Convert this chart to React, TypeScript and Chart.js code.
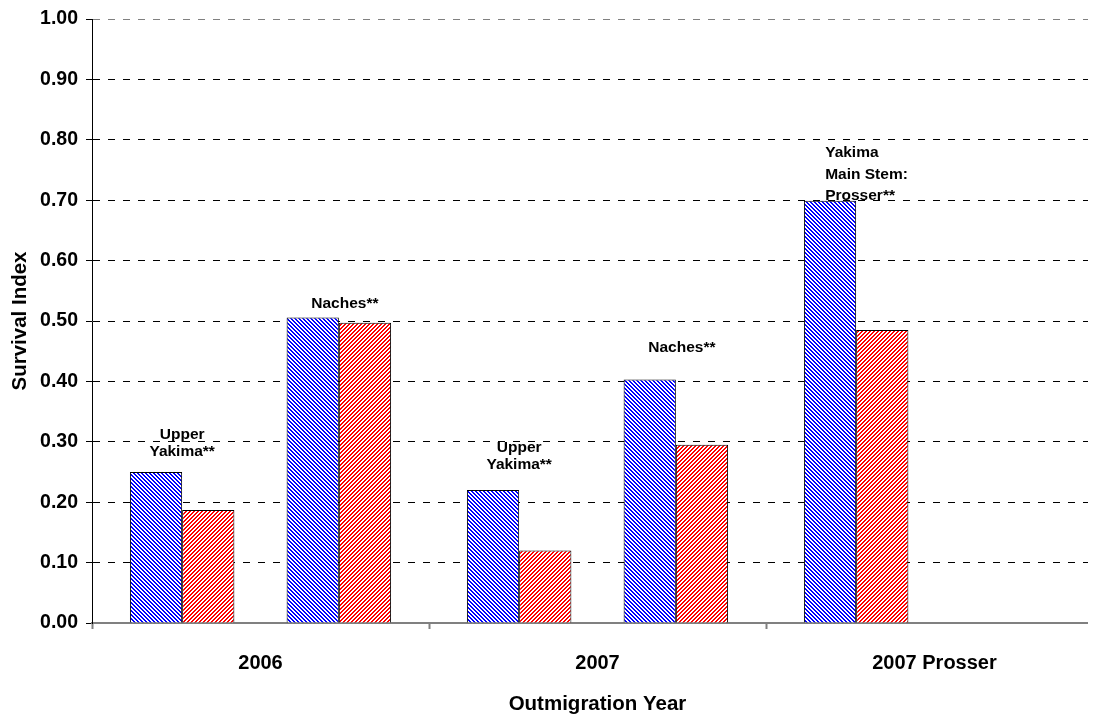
import React, { useEffect, useRef } from "react";
import { Chart, registerables } from "chart.js";

Chart.register(...registerables);

const categories = ["2006", "2007", "2007 Prosser"];
const upperBlue = [0.25, 0.22, 0.699];
const upperRed = [0.187, 0.12, 0.485];
const spacer = [null, null, null];
const nachesBlue = [0.506, 0.403, null];
const nachesRed = [0.497, 0.295, null];

const yTicks = [0, 0.1, 0.2, 0.3, 0.4, 0.5, 0.6, 0.7, 0.8, 0.9, 1.0];

const noteTexts = [
  ["Upper", "Yakima**"],
  ["Naches**"],
  ["Upper", "Yakima**"],
  ["Naches**"],
  ["Yakima", "Main Stem:", "Prosser**"],
];
const noteCategory = [0, 0, 1, 1, 2];
const noteSeries = [0, 3, 0, 3, 0];
const noteValue = [0.311, 0.528, 0.29, 0.455, 0.778];
const noteAlign = ["center", "center", "center", "center", "left"];

const FONT = "'Liberation Sans', Arial, sans-serif";

function makePattern(color: string, forward: boolean) {
  const c = document.createElement("canvas");
  c.width = 4;
  c.height = 4;
  const g = c.getContext("2d")!;
  g.fillStyle = "#ffffff";
  g.fillRect(0, 0, 4, 4);
  g.fillStyle = color;
  for (let y = 0; y < 4; y++) {
    for (let x = 0; x < 4; x++) {
      const k = forward ? (x + y) % 4 : (((x - y) % 4) + 4) % 4;
      if (k === 0 || k === 1) g.fillRect(x, y, 1, 1);
    }
  }
  const ctx = document.createElement("canvas").getContext("2d")!;
  return ctx.createPattern(c, "repeat")!;
}

const notesPlugin = {
  id: "notes",
  afterDatasetsDraw(chart: any) {
    const ctx = chart.ctx;
    const y = chart.scales.y;
    ctx.save();
    ctx.fillStyle = "#000";
    ctx.font = `bold 15.5px ${FONT}`;
    ctx.textBaseline = "middle";
    noteTexts.forEach((lines, i) => {
      const meta = chart.getDatasetMeta(noteSeries[i]);
      const bar = meta.data[noteCategory[i]];
      if (!bar) return;
      const pairCenter = bar.x + bar.width / 2;
      const y0 = y.getPixelForValue(noteValue[i]);
      lines.forEach((t, j) => {
        if (noteAlign[i] === "left") {
          ctx.textAlign = "left";
          ctx.fillText(t, pairCenter - 31, y0 + j * 21.5);
        } else {
          ctx.textAlign = "center";
          ctx.fillText(t, pairCenter + (lines.length === 1 ? 6 : 0), y0 + j * 17);
        }
      });
    });
    ctx.restore();
  },
};

export default function App() {
  const ref = useRef<HTMLCanvasElement>(null);
  useEffect(() => {
    const blue = makePattern("#0000ff", false);
    const red = makePattern("#ff0000", true);
    const common = {
      borderColor: "#000",
      borderWidth: 1,
      categoryPercentage: 0.775,
      barPercentage: 1,
    };
    const chart = new Chart(ref.current!, {
      type: "bar",
      data: {
        labels: categories,
        datasets: [
          { label: "a", data: upperBlue, backgroundColor: blue, ...common },
          { label: "b", data: upperRed, backgroundColor: red, ...common },
          { label: "c", data: spacer, backgroundColor: "transparent", ...common },
          { label: "d", data: nachesBlue, backgroundColor: blue, ...common },
          { label: "e", data: nachesRed, backgroundColor: red, ...common },
        ],
      },
      options: {
        responsive: false,
        animation: false,
        layout: { padding: { top: 11, right: 5, left: 0, bottom: 0 } },
        plugins: { legend: { display: false }, tooltip: { enabled: false } },
        scales: {
          x: {
            offset: true,
            grid: {
              offset: true,
              drawOnChartArea: false,
              drawTicks: true,
              tickLength: 6,
              tickColor: "#808080",
              tickWidth: 2,
            },
            border: { color: "#808080", width: 2 },
            ticks: {
              color: "#000",
              font: { family: FONT, size: 20, weight: "bold" },
              padding: 22,
              maxRotation: 0,
            },
            title: {
              display: true,
              text: "Outmigration Year",
              color: "#000",
              font: { family: FONT, size: 20.5, weight: "bold" },
              padding: { top: 0, bottom: 0 },
            },
            afterFit: (s: any) => {
              s.height = 94;
              s.paddingLeft = 0;
              s.paddingRight = 0;
            },
          },
          y: {
            min: 0,
            max: 1,
            afterBuildTicks: (s: any) => {
              s.ticks = yTicks.map((v) => ({ value: v }));
            },
            grid: {
              color: (c: any) =>
                c.tick && c.tick.value >= 0.999
                  ? "#808080"
                  : c.tick && c.tick.value === 0
                  ? "transparent"
                  : "#000",
              lineWidth: 1,
              tickLength: 6,
              tickColor: "#000",
              tickBorderDash: [],
            },
            border: { color: "#000", width: 1, dash: [7, 8] },
            ticks: {
              color: "#000",
              font: { family: FONT, size: 19.5, weight: "bold" },
              padding: 8,
              callback: (v: any) => Number(v).toFixed(2),
            },
            title: {
              display: true,
              text: "Survival Index",
              color: "#000",
              font: { family: FONT, size: 20.5, weight: "bold" },
              padding: { top: 0, bottom: 0 },
            },
            afterFit: (s: any) => {
              s.width = 84;
              s.paddingTop = 0;
              s.paddingBottom = 0;
            },
          },
        },
      },
      plugins: [notesPlugin],
    });
    return () => chart.destroy();
  }, []);
  return (
    <div style={{ width: 1088, height: 709, overflow: "hidden" }}>
      <canvas ref={ref} width={1100} height={709} />
    </div>
  );
}
